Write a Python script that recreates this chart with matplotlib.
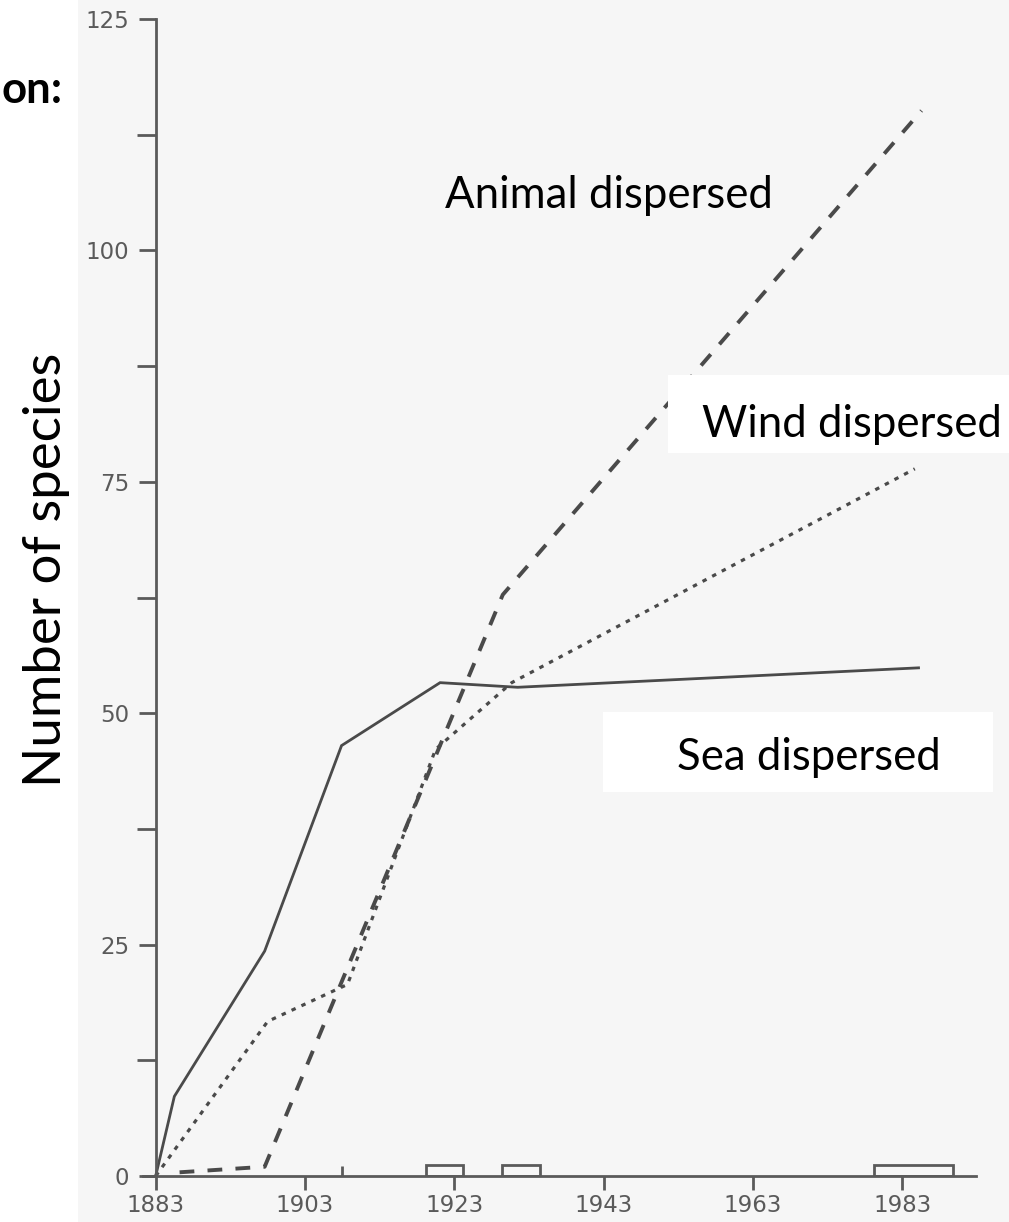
import matplotlib
matplotlib.use("Agg")
import matplotlib.pyplot as plt
from matplotlib.patches import Rectangle

# Data
years_sea = [1883, 1885.5, 1897.6, 1907.9, 1921.1, 1931.5, 1985.2]
sea = [0, 8.6, 24.3, 46.5, 53.3, 52.8, 54.9]

years_wind = [1883, 1898, 1908.7, 1920.5, 1930.7, 1984.7]
wind = [0, 16.7, 20.7, 46.1, 53.3, 76.4]

years_animal = [1886.2, 1897.6, 1929.5, 1985.6]
animal = [0.4, 1.0, 62.8, 115.1]

# small boxes drawn on the time axis
box_start = [1919.2, 1929.4, 1979.2]
box_end = [1924.2, 1934.5, 1989.8]
box_height = [1.2, 1.2, 1.2]

x_ticks = [1883, 1903, 1923, 1943, 1963, 1983]
y_ticks = [0, 25, 50, 75, 100, 125]
y_minor = [12.5, 37.5, 62.5, 87.5, 112.5]

W, H = 1009, 1222
LINE = "#4a4a4a"
TICK = "#5a5a5a"
LABEL_FONT = ["Lato", "DejaVu Sans"]


def fx(px):
    return px / W


def fy(py):
    return 1 - py / H


fig = plt.figure(figsize=(W / 100, H / 100), dpi=100)
fig.patch.set_facecolor("#f6f6f6")
fig.add_artist(Rectangle((0, 0), fx(78), 1, transform=fig.transFigure,
                         facecolor="white", edgecolor="none", zorder=0))

ax = fig.add_axes([fx(143), fy(1176), fx(976) - fx(143), fy(19) - fy(1176)])
ax.patch.set_alpha(0)
ax.set_xlim(1881.3, 1992.9)
ax.set_ylim(0, 125)

for side in ("top", "right"):
    ax.spines[side].set_visible(False)
ax.spines["left"].set_position(("data", 1883))
for side in ("left", "bottom"):
    ax.spines[side].set_color(TICK)
    ax.spines[side].set_linewidth(2)

ax.set_xticks(x_ticks)
ax.set_xticks([1908], minor=True)
ax.set_yticks(y_ticks)
ax.set_yticks(y_minor, minor=True)
ax.tick_params(axis="x", which="major", direction="out", length=10, width=2,
               color=TICK, labelcolor=TICK, labelsize=16.5, pad=3)
ax.tick_params(axis="x", which="minor", direction="in", length=7, width=2,
               color=TICK)
ax.tick_params(axis="y", which="major", direction="out", length=12, width=2,
               color=TICK, labelcolor=TICK, labelsize=16.5, pad=7)
ax.tick_params(axis="y", which="minor", direction="out", length=14, width=2,
               color=TICK)

ax.plot(years_sea, sea, color=LINE, linewidth=2.0, solid_joinstyle="miter")
ax.plot(years_wind, wind, color=LINE, linewidth=2.3, dashes=(1.4, 2.0))
ax.plot(years_animal, animal, color=LINE, linewidth=2.8, dashes=(3.8, 3.4))

widths = [e - s for s, e in zip(box_start, box_end)]
ax.bar(box_start, box_height, width=widths, align="edge", fill=False,
       edgecolor=TICK, linewidth=2)

# white label patches pasted over the scan
fig.add_artist(Rectangle((fx(668), fy(453)), fx(1009) - fx(668), fy(375) - fy(453),
                         transform=fig.transFigure, facecolor="white",
                         edgecolor="none", zorder=3))
fig.add_artist(Rectangle((fx(603), fy(792)), fx(993) - fx(603), fy(712) - fy(792),
                         transform=fig.transFigure, facecolor="white",
                         edgecolor="none", zorder=3))

fig.text(fx(445), fy(208), "Animal dispersed", family=LABEL_FONT, fontsize=31.5,
         va="baseline", zorder=4)
fig.text(fx(702), fy(437), "Wind dispersed", family=LABEL_FONT, fontsize=31.5,
         va="baseline", zorder=4)
fig.text(fx(677), fy(770), "Sea dispersed", family=LABEL_FONT, fontsize=31.5,
         va="baseline", zorder=4)
fig.text(fx(63), fy(103), "on:", family=LABEL_FONT, fontsize=31.5,
         fontweight="bold", ha="right", va="baseline", zorder=4)
fig.text(fx(47), fy(570), "Number of species", family=LABEL_FONT, fontsize=38,
         rotation=90, ha="center", va="center", zorder=4)

fig.savefig("out.png", dpi=100)
